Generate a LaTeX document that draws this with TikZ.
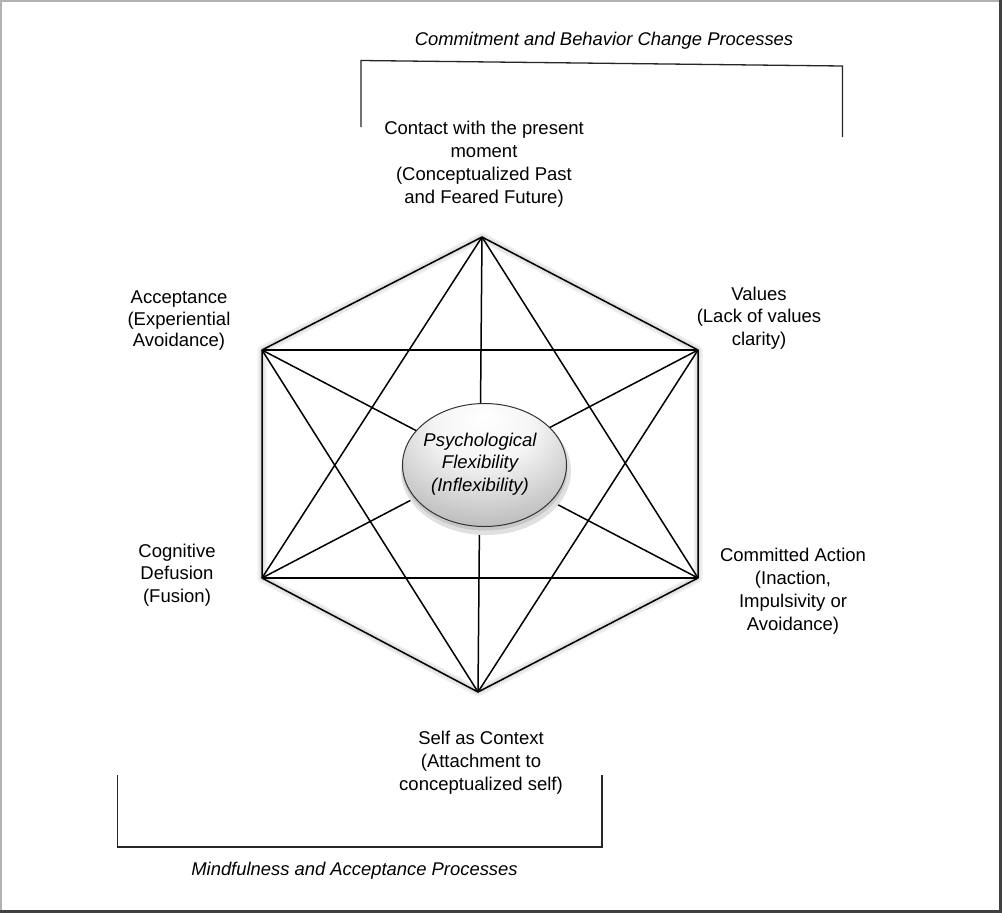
\documentclass[tikz,border=0pt]{standalone}
\usepackage{fontspec}
\setmainfont{Liberation Sans}
\usetikzlibrary{shapes.geometric}
\pgfdeclareradialshading{ellshade}{\pgfpoint{0bp}{20bp}}{%
  color(0bp)=(white); color(15bp)=(white!96!black); color(40bp)=(black!30); color(62bp)=(black!48); color(80bp)=(black!55)}
\tikzset{
  lab/.style={align=center, font=\fontsize{18.5}{23}\selectfont, inner sep=0pt},
  ttl/.style={align=center, font=\fontsize{18.4}{23}\selectfont\itshape, inner sep=0pt},
  web/.style={draw=black, line width=1.5pt, line join=round},
  brk/.style={draw=black!85, line width=1.3pt},
}
\begin{document}
\begin{tikzpicture}[x=1pt,y=-1pt]
\useasboundingbox (0,0) rectangle (1002,914);
\fill[white] (0,0) rectangle (1002,914);
% frame
\draw[black!30, line width=2pt] (1,913) -- (1,1) -- (1001,1);
\draw[black!75, line width=3pt] (0,911.5) -- (1000.5,911.5) -- (1000.5,0);
% vertices
\coordinate (T) at (482,237);
\coordinate (UL) at (262,350);
\coordinate (UR) at (698,350);
\coordinate (LL) at (262,578);
\coordinate (LR) at (698,578);
\coordinate (B) at (478,692);
% hexagon shadow
\foreach \w/\c in {9/6,6/9,3.5/12}{
  \draw[black!\c, line width=\w pt, line join=round, shift={(1.5,4)}]
    (T) -- (UR) -- (LR) -- (B) -- (LL) -- (UL) -- cycle;
}
% inner lines
\draw[web] (T) -- (LL);
\draw[web] (T) -- (LR);
\draw[web] (T) -- (B);
\draw[web] (UL) -- (UR);
\draw[web] (UL) -- (LR);
\draw[web] (UL) -- (B);
\draw[web] (UR) -- (LL);
\draw[web] (UR) -- (B);
\draw[web] (LL) -- (LR);
% hexagon
\draw[web] (T) -- (UR) -- (LR) -- (B) -- (LL) -- (UL) -- cycle;
% ellipse
\fill[black!12] (486,471) ellipse [x radius=85, y radius=64];
\fill[black!22] (485,469) ellipse [x radius=82.5, y radius=61.5];
\node[ellipse, draw=black!80, line width=1pt, shading=ellshade,
      minimum width=164pt, minimum height=123pt, inner sep=0pt] (PF) at (484.5,465) {};
\node[lab, font=\fontsize{18.5}{22.5}\selectfont\itshape] (PFt) at (480,464)
  {Psychological\\Flexibility\\(Inflexibility)};
% labels
\node[lab] (top) at (484,164) {Contact with the present\\moment\\(Conceptualized Past\\and Feared Future)};
\node[lab, font=\fontsize{18.5}{21.5}\selectfont] (acc) at (179,321) {Acceptance\\(Experiential\\Avoidance)};
\node[lab, font=\fontsize{18.5}{22.5}\selectfont] (val) at (759,318) {Values\\(Lack of values\\clarity)};
\node[lab, font=\fontsize{18.5}{22.5}\selectfont] (cog) at (177,575) {Cognitive\\Defusion\\(Fusion)};
\node[lab] (com) at (793,591) {Committed Action\\(Inaction,\\Impulsivity or\\Avoidance)};
\node[lab] (self) at (481,763) {Self as Context\\(Attachment to\\conceptualized self)};
% brackets
\coordinate (b1a) at (361,127);
\coordinate (b1b) at (361,60.5);
\coordinate (b1c) at (842.5,66);
\coordinate (b1d) at (842.5,137);
\draw[brk] (b1a) -- (b1b) -- (b1c) -- (b1d);
\coordinate (b2a) at (117.5,775);
\coordinate (b2b) at (117.5,847);
\coordinate (b2c) at (602,847);
\coordinate (b2d) at (602,775);
\draw[brk] (b2a) -- (b2b) -- (b2c) -- (b2d);
\node[ttl] (t1) at (604,41) {Commitment and Behavior Change Processes};
\node[ttl] (t2) at (354.5,871) {Mindfulness and Acceptance Processes};
\end{tikzpicture}
\end{document}
